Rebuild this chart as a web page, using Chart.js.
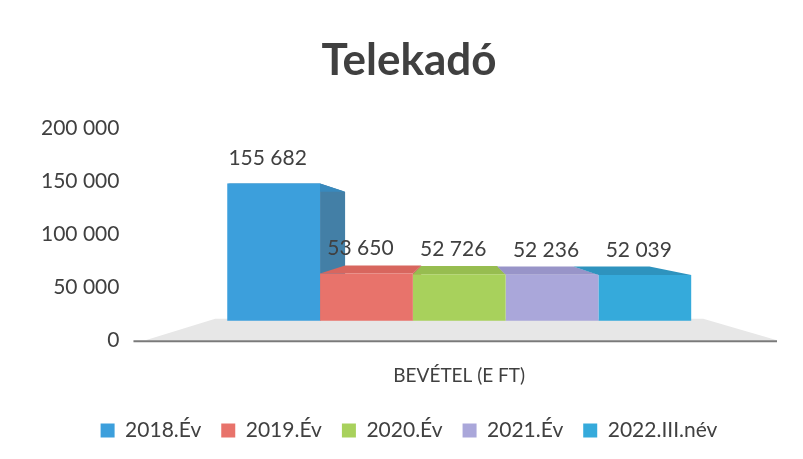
<!DOCTYPE html>
<html>
<head>
<meta charset="utf-8">
<script src="https://cdn.jsdelivr.net/npm/chart.js@4"></script>
<style>
  html, body { margin: 0; padding: 0; background: #ffffff; }
  #wrap { width: 803px; height: 459px; }
</style>
</head>
<body>
<div id="wrap"><canvas id="chart" width="803" height="459"></canvas></div>
<script>
// Data
const categories = ['BEVÉTEL (E FT)'];
const seriesNames = ['2018.Év', '2019.Év', '2020.Év', '2021.Év', '2022.III.név'];
const seriesValues = [155682, 53650, 52726, 52236, 52039];
const yTicks = [0, 50000, 100000, 150000, 200000];

// front / top / side colours per series
const frontColors = ['#3c9fdc', '#e8736b', '#a8d15c', '#aaa7da', '#35aadb'];
const topColors = ['#3889bd', '#d8665e', '#97bd50', '#9894c8', '#2e93be'];
const sideColors = ['#437fa6', '#c25a53', '#86a847', '#8783b5', '#2a83aa'];

function fmt(v) {
    return String(v).replace(/\B(?=(\d{3})+(?!\d))/g, ' ');
}

// 3D look: floor plane, top and side faces, value labels
const DEPTH = 0.18;
function vanishing(chart) {
    const metas = chart.getSortedVisibleDatasetMetas();
    let l = Infinity, r = -Infinity;
    metas.forEach(m => m.data.forEach(b => {
        const p = b.getProps(['x', 'width'], true);
        l = Math.min(l, p.x - p.width / 2);
        r = Math.max(r, p.x + p.width / 2);
    }));
    const a = chart.chartArea;
    return { x: (l + r) / 2, y: a.top + 0.475 * (a.bottom - a.top), l: l, r: r };
}

function drawFaces(ctx, meta, i, v) {
    meta.data.forEach(bar => {
        const p = bar.getProps(['x', 'y', 'base', 'width'], true);
        const L = p.x - p.width / 2, R = p.x + p.width / 2;
        const bx = x => x + (v.x - x) * DEPTH;
        const by = y => y + (v.y - y) * DEPTH;
        if (R < v.x) {
            ctx.fillStyle = sideColors[i];
            ctx.beginPath();
            ctx.moveTo(R, p.y);
            ctx.lineTo(bx(R), by(p.y));
            ctx.lineTo(bx(R), by(p.base));
            ctx.lineTo(R, p.base);
            ctx.closePath();
            ctx.fill();
        }
        ctx.fillStyle = topColors[i];
        ctx.beginPath();
        ctx.moveTo(L, p.y);
        ctx.lineTo(R, p.y);
        ctx.lineTo(bx(R), by(p.y));
        ctx.lineTo(bx(L), by(p.y));
        ctx.closePath();
        ctx.fill();
    });
}

const depthPlugin = {
    id: 'depth3d',
    beforeDatasetsDraw(chart) {
        const ctx = chart.ctx;
        const a = chart.chartArea;
        const v = vanishing(chart);
        const base = chart.scales.bars.getPixelForValue(0);
        ctx.save();
        // floor
        ctx.fillStyle = '#e7e7e7';
        ctx.beginPath();
        ctx.moveTo(a.left + 4, a.bottom);
        ctx.lineTo(a.right, a.bottom);
        ctx.lineTo(v.r + 12, base - 2);
        ctx.lineTo(v.l - 12, base - 2);
        ctx.closePath();
        ctx.fill();
        ctx.strokeStyle = '#7a7a7a';
        ctx.lineWidth = 2;
        ctx.beginPath();
        ctx.moveTo(a.left - 8, a.bottom + 1);
        ctx.lineTo(a.right, a.bottom + 1);
        ctx.stroke();
        // hidden faces, back to front (left to right)
        chart.data.datasets.forEach((ds, i) => {
            drawFaces(ctx, chart.getDatasetMeta(i), i, v);
        });
        ctx.restore();
    },
    afterDatasetsDraw(chart) {
        const ctx = chart.ctx;
        ctx.save();
        ctx.font = '21px Lato';
        ctx.fillStyle = '#404040';
        ctx.textAlign = 'center';
        ctx.textBaseline = 'middle';
        chart.data.datasets.forEach((ds, i) => {
            chart.getDatasetMeta(i).data.forEach((bar, j) => {
                const p = bar.getProps(['x', 'y'], true);
                ctx.fillText(fmt(ds.data[j]), p.x - 6, p.y - 25);
            });
        });
        ctx.restore();
    }
};

const datasets = seriesNames.map((name, i) => ({
    label: name,
    data: [seriesValues[i]],
    backgroundColor: frontColors[i],
    borderWidth: 0,
    yAxisID: 'bars',
    barPercentage: 1,
    categoryPercentage: 0.73
}));

new Chart(document.getElementById('chart'), {
    type: 'bar',
    data: { labels: categories, datasets: datasets },
    plugins: [depthPlugin],
    options: {
        responsive: false,
        animation: false,
        layout: { padding: { left: 41, right: 26, top: 0, bottom: 8 } },
        plugins: {
            title: {
                display: true,
                text: 'Telekadó',
                color: '#404040',
                font: { family: 'Lato', size: 44, weight: 'bold' },
                padding: { top: 34, bottom: 41 }
            },
            legend: {
                position: 'bottom',
                labels: {
                    color: '#404040',
                    font: { family: 'Lato', size: 21 },
                    boxWidth: 14,
                    boxHeight: 14,
                    padding: 20
                }
            },
            tooltip: { enabled: false }
        },
        scales: {
            x: {
                grid: { display: false, drawTicks: false },
                border: { display: false },
                ticks: { color: '#404040', font: { family: 'Lato', size: 19 }, padding: 24 },
                // let the category label sit closer to the legend
                afterFit: axis => { axis.height -= 11; }
            },
            y: {
                position: 'left',
                min: 0,
                max: 200000,
                afterBuildTicks: axis => { axis.ticks = yTicks.map(t => ({ value: t })); },
                grid: { display: false, drawTicks: false },
                border: { display: false },
                ticks: {
                    color: '#404040',
                    font: { family: 'Lato', size: 21 },
                    padding: 22,
                    callback: v => fmt(v)
                },
                // drop the unused padding on the outer side of the labels
                afterFit: axis => { axis.width -= 22; }
            },
            // back plane of the 3D floor: bars stand a little behind the front axis
            bars: {
                display: false,
                min: -22000,
                max: 219000
            }
        }
    }
});
</script>
</body>
</html>
